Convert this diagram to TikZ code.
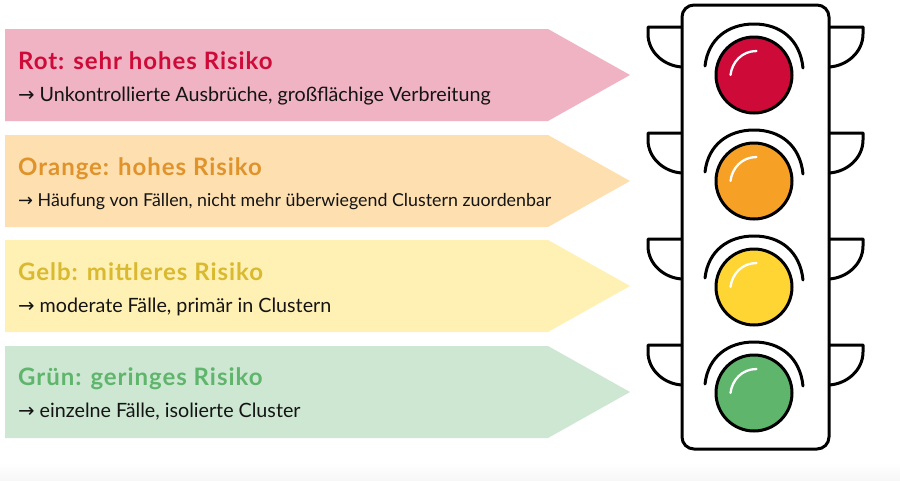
\documentclass[tikz,border=0pt]{standalone}
\usepackage{fontspec}
\setmainfont{Lato}
\newfontfamily\arrowfont{DejaVu Sans}
\newfontfamily\headfont[LetterSpace=4,BoldFont={Lato Bold}]{Lato}
\definecolor{bgRed}{HTML}{EFB3C3}
\definecolor{bgOrange}{HTML}{FDDFB0}
\definecolor{bgYellow}{HTML}{FFF0B3}
\definecolor{bgGreen}{HTML}{CDE7D2}
\definecolor{hdRed}{HTML}{CE0A39}
\definecolor{hdOrange}{HTML}{E0932A}
\definecolor{hdYellow}{HTML}{D9B92F}
\definecolor{hdGreen}{HTML}{60B56C}
\definecolor{lampRed}{HTML}{CE0A39}
\definecolor{lampOrange}{HTML}{F7A026}
\definecolor{lampYellow}{HTML}{FFD533}
\definecolor{lampGreen}{HTML}{5EB56B}
\definecolor{inkblack}{HTML}{141414}
\tikzset{
  x=1pt,y=-1pt,
  headtext/.style={anchor=base west,inner sep=0pt,font=\headfont\bfseries\fontsize{24}{26}\selectfont},
  bodytext/.style={anchor=base west,inner sep=0pt,text=inkblack,font=\fontsize{19.7}{22}\selectfont},
  smalltext/.style={anchor=base west,inner sep=0pt,text=inkblack,font=\fontsize{17.8}{22}\selectfont},
  outline/.style={draw=black,line width=3pt,line join=round,line cap=round},
  hilite/.style={draw=white,line width=2.3pt,line cap=round}
}
\newcommand{\arrowband}[2]{%
  \fill[#2] (5,#1-46) -- (548,#1-46) -- (630,#1) -- (548,#1+46) -- (5,#1+46) -- cycle;}
\begin{document}
\begin{tikzpicture}
\useasboundingbox (0,0) rectangle (900,480);
\fill[white] (0,0) rectangle (900,480);
\shade[top color=white,bottom color=black!3] (0,462) rectangle (900,480);
\arrowband{75}{bgRed}
\arrowband{181}{bgOrange}
\arrowband{286}{bgYellow}
\arrowband{392}{bgGreen}
\node[headtext,text=hdRed] (h1) at (18,69) {Rot: sehr hohes Risiko};
\node[bodytext] (b1) at (18,101) {{\arrowfont →} Unkontrollierte Ausbrüche, großflächige Verbreitung};
\node[headtext,text=hdOrange] (h2) at (18,175) {Orange: hohes Risiko};
\node[smalltext] (b2) at (18,206) {{\arrowfont →} Häufung von Fällen, nicht mehr überwiegend Clustern zuordenbar};
\node[headtext,text=hdYellow] (h3) at (18,280) {Gelb: mittleres Risiko};
\node[bodytext] (b3) at (18,312) {{\arrowfont →} moderate Fälle, primär in Clustern};
\node[headtext,text=hdGreen] (h4) at (18,385) {Grün: geringes Risiko};
\node[bodytext] (b4) at (18,417) {{\arrowfont →} einzelne Fälle, isolierte Cluster};
% ears
\foreach \c in {75,181,287,393}{
  \draw[outline] (682,\c-48) -- (648,\c-48) -- (648,\c-41) .. controls (648,\c-23) and (664,\c-9) .. (682,\c-8);
  \draw[outline] (829,\c-48) -- (863,\c-48) -- (863,\c-41) .. controls (863,\c-23) and (847,\c-9) .. (829,\c-8);
}
% housing
\draw[outline,fill=white,rounded corners=12pt] (682,5) rectangle (829,449);
% lamps
\foreach \c/\col in {75/lampRed,181/lampOrange,287/lampYellow,393/lampGreen}{
  \draw[outline,fill=\col] (754,\c) circle[radius=38];
  \draw[outline] (705,\c-9) .. controls (708,\c-36) and (728,\c-51) .. (754,\c-51) .. controls (780,\c-51) and (800,\c-36) .. (803,\c-7);
  \draw[hilite] (730.5,\c) .. controls (732,\c-13) and (742,\c-24) .. (756.5,\c-24);
}
\end{tikzpicture}
\end{document}
